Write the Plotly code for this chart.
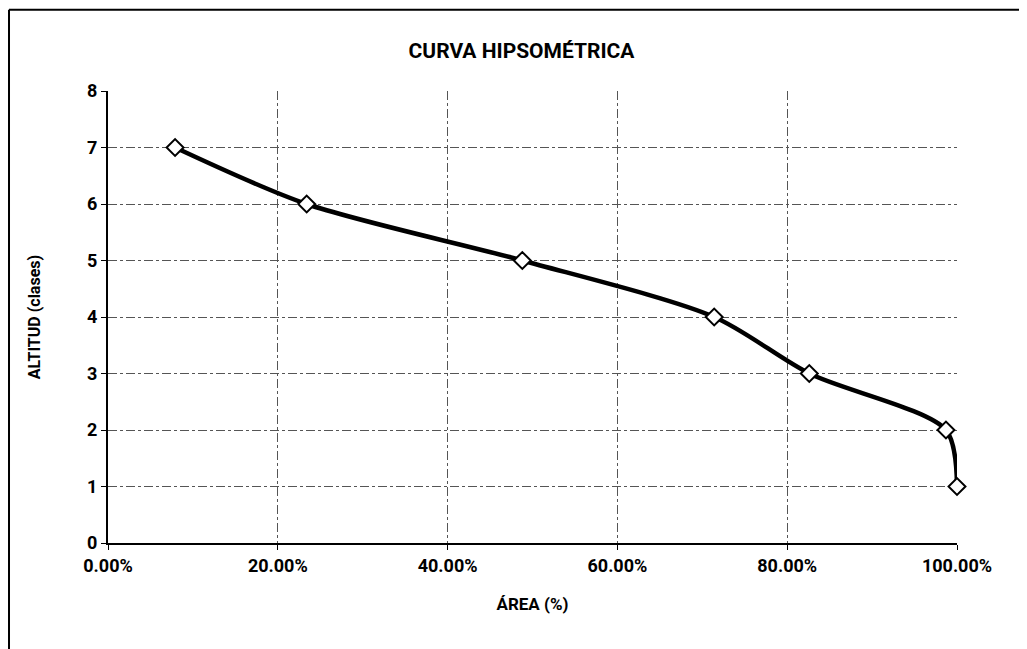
import plotly.graph_objects as go

# hypsometric curve
area_frac = [0.079, 0.234, 0.488, 0.714, 0.826, 0.987, 1.0]
altitud_clase = [7, 6, 5, 4, 3, 2, 1]

x_ticks = [0, 0.2, 0.4, 0.6, 0.8, 1.0]
x_tick_labels = ["0.00%", "20.00%", "40.00%", "60.00%", "80.00%", "100.00%"]
y_ticks = [0, 1, 2, 3, 4, 5, 6, 7, 8]

FONT = "Roboto, Noto Sans, sans-serif"

fig = go.Figure()
fig.add_trace(
    go.Scatter(
        x=area_frac,
        y=altitud_clase,
        mode="lines+markers",
        line=dict(color="black", width=4.5, shape="spline", smoothing=0.8),
        marker=dict(symbol="diamond", size=13, color="white", line=dict(color="black", width=2)),
        cliponaxis=False,
        showlegend=False,
    )
)

grid = dict(showgrid=True, gridcolor="#555555", gridwidth=1, griddash="dashdot")

fig.update_xaxes(
    range=[0, 1.0],
    tickvals=x_ticks,
    ticktext=x_tick_labels,
    showline=True,
    linecolor="black",
    linewidth=2,
    ticks="outside",
    ticklen=5,
    tickcolor="black",
    zeroline=False,
    automargin=False,
    title=dict(text="<b>ÁREA (%)</b>", font=dict(size=17, family=FONT, color="black"), standoff=24),
    tickfont=dict(size=18, family=FONT, color="black", weight="bold"),
    **grid,
)
fig.update_yaxes(
    range=[0, 8],
    tickvals=y_ticks,
    showline=True,
    linecolor="black",
    linewidth=2,
    ticks="outside",
    ticklen=5,
    tickcolor="black",
    zeroline=False,
    automargin=False,
    title=dict(text="<b>ALTITUD (clases)</b>", font=dict(size=16, family=FONT, color="black"), standoff=42),
    tickfont=dict(size=18, family=FONT, color="black", weight="bold"),
    **grid,
)

fig.update_layout(
    width=1027,
    height=649,
    title=dict(
        text="<b>CURVA HIPSOMÉTRICA</b>",
        x=0.5,
        xanchor="center",
        y=0.935,
        yanchor="middle",
        font=dict(size=21, family=FONT, color="black"),
    ),
    margin=dict(l=100, r=78, t=83, b=114),
    paper_bgcolor="white",
    plot_bgcolor="white",
    font=dict(family=FONT),
    shapes=[
        dict(type="line", xref="paper", yref="paper", x0=-0.1166, x1=1.09, y0=1.18, y1=1.18,
             line=dict(color="black", width=2)),
        dict(type="line", xref="paper", yref="paper", x0=-0.1166, x1=-0.1166, y0=1.18, y1=-0.25,
             line=dict(color="black", width=2)),
    ],
)

fig.write_html("out.html")
